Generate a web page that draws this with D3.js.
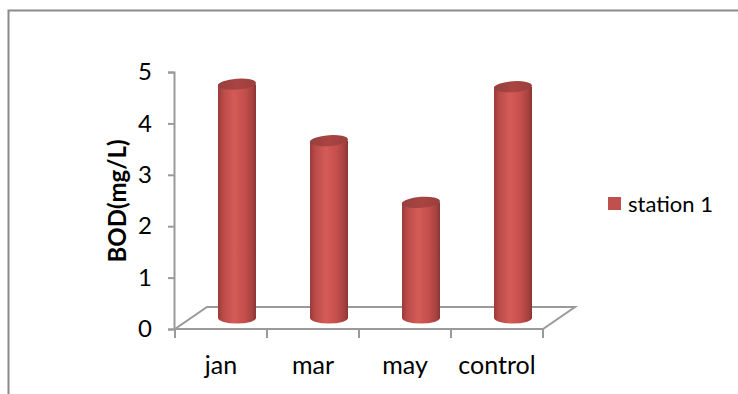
<!DOCTYPE html>
<html>
<head>
<meta charset="utf-8">
<script src="https://cdn.jsdelivr.net/npm/d3@7"></script>
<style>
  html, body { margin: 0; padding: 0; background: #fff; }
  svg { display: block; }
  text { font-family: Lato, "Open Sans", sans-serif; fill: #000; }
</style>
</head>
<body>
<svg id="chart" width="738" height="394"></svg>
<script>
// Monthly BOD readings at station 1
const categories = ["jan", "mar", "may", "control"];
const seriesName = "station 1";
const bodValues = [4.55, 3.45, 2.25, 4.5];
const yTicks = [0, 1, 2, 3, 4, 5];
const yTitle = "BOD(mg/L)";

const svg = d3.select("#chart");

// Chart frame
svg.append("rect")
  .attr("x", 8.5).attr("y", 10.5)
  .attr("width", 760).attr("height", 420)
  .attr("fill", "none").attr("stroke", "#8a8a8a").attr("stroke-width", 2);

// Front floor edge and value axis
const x = d3.scaleBand().domain(categories).range([175, 543]).paddingInner(0).paddingOuter(0);
const y = d3.scaleLinear().domain([0, 5]).range([329, 72]);

// Oblique depth offset of the floor
const depth = { dx: 32, dy: -22 };
const gridColor = "#9a9a9a";

// Floor
const floorPts = [
  [x.range()[0], y(0)], [x.range()[1], y(0)],
  [x.range()[1] + depth.dx, y(0) + depth.dy], [x.range()[0] + depth.dx, y(0) + depth.dy]
];
svg.append("polygon")
  .attr("points", floorPts.map(p => p.join(",")).join(" "))
  .attr("fill", "none").attr("stroke", gridColor).attr("stroke-width", 2);

// Y axis
const yAxis = d3.axisLeft(y).tickValues(yTicks).tickSize(6).tickPadding(16).tickFormat(d3.format("d"));
const yg = svg.append("g").attr("transform", `translate(${x.range()[0] - 1},0)`).call(yAxis);
yg.select(".domain").attr("stroke", gridColor).attr("stroke-width", 2);
yg.selectAll(".tick line").attr("stroke", gridColor).attr("stroke-width", 2);
yg.selectAll(".tick text").attr("font-size", 24).attr("font-family", "Lato, sans-serif").attr("fill", "#000");

// X axis ticks at category boundaries
const boundaries = categories.map(c => x(c)).concat([x.range()[1]]);
svg.append("g").selectAll("line").data(boundaries).join("line")
  .attr("x1", d => d).attr("x2", d => d)
  .attr("y1", y(0)).attr("y2", y(0) + 9)
  .attr("stroke", gridColor).attr("stroke-width", 2);

svg.append("g").selectAll("text").data(categories).join("text")
  .attr("x", d => x(d) + x.bandwidth() / 2)
  .attr("y", 374)
  .attr("text-anchor", "middle")
  .attr("font-size", 25)
  .text(d => d);

// Y axis title
svg.append("text")
  .attr("transform", "translate(126,201) rotate(-90)")
  .attr("text-anchor", "middle")
  .attr("font-size", 24)
  .attr("font-weight", "bold")
  .text(yTitle);

// Cylinder shading
const defs = svg.append("defs");
const bodyGrad = defs.append("linearGradient").attr("id", "cylBody").attr("x1", "0").attr("x2", "1").attr("y1", "0").attr("y2", "0");
[["0%", "#9a3b39"], ["15%", "#bb4c49"], ["42%", "#d45b58"], ["70%", "#c44f4c"], ["90%", "#a74240"], ["100%", "#8a3533"]]
  .forEach(([o, c]) => bodyGrad.append("stop").attr("offset", o).attr("stop-color", c));
const topGrad = defs.append("linearGradient").attr("id", "cylTop").attr("x1", "0").attr("x2", "1").attr("y1", "0").attr("y2", "0");
[["0%", "#96403e"], ["50%", "#a94442"], ["100%", "#9b3f3d"]]
  .forEach(([o, c]) => topGrad.append("stop").attr("offset", o).attr("stop-color", c));

// Bars sit at half the floor depth
const r = 19, ry = 5.5, tilt = -4;
const cx = d => x(d) + x.bandwidth() / 2 + depth.dx / 2;
const baseY = y(0) + depth.dy / 2;

const bars = svg.append("g").selectAll("g").data(categories.map((c, i) => ({ c, v: bodValues[i] }))).join("g");

bars.append("path")
  .attr("d", d => {
    const c = cx(d.c), top = y(d.v) + depth.dy / 2;
    return `M${c - r},${top} L${c - r},${baseY} A${r},${ry} 0 0 0 ${c + r},${baseY} L${c + r},${top} Z`;
  })
  .attr("fill", "url(#cylBody)");

bars.append("ellipse")
  .attr("cx", d => cx(d.c))
  .attr("cy", d => y(d.v) + depth.dy / 2)
  .attr("rx", r).attr("ry", ry)
  .attr("transform", d => `rotate(${tilt},${cx(d.c)},${y(d.v) + depth.dy / 2})`)
  .attr("fill", "url(#cylTop)");

// Legend
const legend = svg.append("g").attr("transform", "translate(608,197)");
legend.append("rect").attr("width", 13).attr("height", 13).attr("fill", "#c0504d");
legend.append("text").attr("x", 20).attr("y", 15).attr("font-size", 22).text(seriesName);
</script>
</body>
</html>
